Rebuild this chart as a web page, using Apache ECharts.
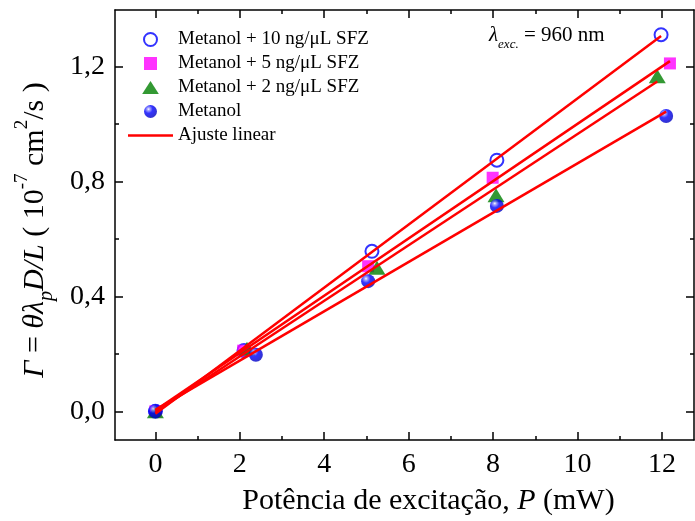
<!DOCTYPE html>
<html>
<head>
<meta charset="utf-8">
<script src="https://cdn.jsdelivr.net/npm/echarts@6/dist/echarts.min.js"></script>
<style>html,body{margin:0;padding:0;background:#fff;}#c{width:695px;height:521px;}</style>
</head>
<body>
<div id="c"></div>
<script>
// ---- data ----
const names = ['Metanol + 10 ng/μL SFZ', 'Metanol + 5 ng/μL SFZ', 'Metanol + 2 ng/μL SFZ', 'Metanol'];
const x10 = [0, 2.10, 5.13, 8.09, 11.98];
const y10 = [0, 0.212, 0.557, 0.874, 1.311];
const x5  = [0, 2.08, 5.04, 7.99, 12.19];
const y5  = [0, 0.211, 0.505, 0.813, 1.211];
const x2  = [0, 2.17, 5.25, 8.07, 11.89];
const y2  = [0, 0.218, 0.500, 0.752, 1.166];
const x0  = [0, 2.38, 5.04, 8.09, 12.10];
const y0  = [0, 0.197, 0.453, 0.715, 1.028];
const xMajor = [0, 2, 4, 6, 8, 10, 12];
const xMinor = [1, 3, 5, 7, 9, 11];
const yMajor = [0, 0.4, 0.8, 1.2];
const yMinor = [0.2, 0.6, 1.0];
const fitName = 'Ajuste linear';

const FONT = "'Liberation Serif', 'Times New Roman', serif";
const pairs = (xs, ys) => xs.map((v, i) => [v, ys[i]]);
function fit(xs, ys) {
  const n = xs.length;
  const mx = xs.reduce((a, b) => a + b, 0) / n;
  const my = ys.reduce((a, b) => a + b, 0) / n;
  let sxx = 0, sxy = 0;
  for (let i = 0; i < n; i++) { sxx += (xs[i] - mx) ** 2; sxy += (xs[i] - mx) * (ys[i] - my); }
  const a = sxy / sxx, b = my - a * mx;
  const x1 = xs[0], x2e = xs[n - 1];
  return [[x1, a * x1 + b], [x2e, a * x2e + b]];
}

const chart = echarts.init(document.getElementById('c'), null, {renderer: 'canvas'});
const axisLine = {show: true, onZero: false, lineStyle: {color: '#000', width: 1.5}};
const noLine = {show: false, onZero: false};
function xAx(pos, vals, len, main) {
  return {
    type: 'value', position: pos, min: -0.957, max: 12.76,
    axisLine: main ? axisLine : noLine,
    axisTick: {show: true, inside: true, length: len, customValues: vals, lineStyle: {color: '#000', width: 1.5}},
    axisLabel: {show: main && pos === 'bottom', customValues: xMajor, fontFamily: FONT, fontSize: 28, color: '#000', margin: 11},
    splitLine: {show: false},
    name: (main && pos === 'bottom') ? 'Potência de excitação, {i|P} (mW)' : '',
    nameLocation: 'middle', nameGap: 46,
    nameTextStyle: {fontFamily: FONT, fontSize: 30, color: '#000', padding: [0, 0, 0, 48],
      rich: {i: {fontFamily: FONT, fontSize: 30, fontStyle: 'italic', color: '#000'}}}
  };
}
function yAx(pos, vals, len, main) {
  return {
    type: 'value', position: pos, min: -0.1, max: 1.397,
    axisLine: main ? axisLine : noLine,
    axisTick: {show: true, inside: true, length: len, customValues: vals, lineStyle: {color: '#000', width: 1.5}},
    axisLabel: {show: main && pos === 'left', customValues: yMajor, fontFamily: FONT, fontSize: 28, color: '#000', margin: 10,
      formatter: v => v.toFixed(1).replace('.', ',')},
    splitLine: {show: false},
    name: (main && pos === 'left') ? '{g|Γ}{n| = }{i|θλ}{sub|p}{i|D/L}{n| ( 10}{sup|-7}{n| cm}{sup|2}{n|/s )}' : '',
    nameLocation: 'middle', nameGap: 58, nameRotate: 90,
    nameTextStyle: {
      fontFamily: FONT, fontSize: 30, color: '#000', padding: [0, 10, 0, 0],
      rich: {
        g: {fontFamily: FONT, fontSize: 30, fontStyle: 'italic', color: '#000', lineHeight: 44},
        n: {fontFamily: FONT, fontSize: 30, color: '#000', lineHeight: 44},
        i: {fontFamily: FONT, fontSize: 30, fontStyle: 'italic', color: '#000', lineHeight: 44},
        sub: {fontFamily: FONT, fontSize: 20, fontStyle: 'italic', color: '#000', lineHeight: 20, verticalAlign: 'bottom'},
        sup: {fontFamily: FONT, fontSize: 19, color: '#000', lineHeight: 32, verticalAlign: 'top'}
      }
    }
  };
}

const sphere = new echarts.graphic.RadialGradient(0.35, 0.32, 0.7, [
  {offset: 0, color: '#ffffff'},
  {offset: 0.15, color: '#9090ff'},
  {offset: 0.45, color: '#0000ff'},
  {offset: 1, color: '#0000c0'}
]);

const squareIcon = 'path://M0,0H12V12H0Z';
const triIcon = 'path://M9,0L18,14L0,14Z';
const lineIcon = 'path://M0,0H45V2.5H0Z';

const scatterBase = {type: 'scatter', z: 3, emphasis: {disabled: true}, silent: true};
const fitBase = {type: 'line', name: fitName, symbol: 'none', showSymbol: false, z: 5, silent: true,
  lineStyle: {color: '#ff0000', width: 2.5}, itemStyle: {color: '#ff0000'}, emphasis: {disabled: true}};

chart.setOption({
  animation: false,
  backgroundColor: '#fff',
  grid: {left: 115, right: 1, top: 10, bottom: 78, containLabel: false},
  xAxis: [xAx('bottom', xMajor, 8, true), xAx('bottom', xMinor, 4, false), xAx('top', xMajor, 8, true), xAx('top', xMinor, 4, false)],
  yAxis: [yAx('left', yMajor, 8, true), yAx('left', yMinor, 4, false), yAx('right', yMajor, 8, true), yAx('right', yMinor, 4, false)],
  legend: {
    orient: 'vertical', left: 128, top: 30, padding: 0, itemGap: 5,
    itemWidth: 45, itemHeight: 13, symbolKeepAspect: true,
    data: [
      {name: names[0]},
      {name: names[1], icon: squareIcon},
      {name: names[2], icon: triIcon},
      {name: names[3]},
      {name: fitName, icon: lineIcon}
    ],
    textStyle: {fontFamily: FONT, fontSize: 19, color: '#000', lineHeight: 19},
    selectedMode: false
  },
  graphic: [{
    type: 'text', left: 489, top: 25, silent: true,
    style: {
      text: '{l|λ}{s|exc.}{n| = 960 nm}',
      rich: {
        l: {fontFamily: FONT, fontSize: 21, fontStyle: 'italic', fill: '#000', lineHeight: 32},
        s: {fontFamily: FONT, fontSize: 13, fontStyle: 'italic', fill: '#000', lineHeight: 13, verticalAlign: 'bottom'},
        n: {fontFamily: FONT, fontSize: 21, fill: '#000', lineHeight: 32}
      }
    }
  }],
  series: [
    Object.assign({}, scatterBase, {name: names[0], data: pairs(x10, y10), symbol: 'emptyCircle', symbolSize: 13,
      itemStyle: {color: '#0000ff', borderColor: '#0000ff', borderWidth: 1.2}}),
    Object.assign({}, scatterBase, {name: names[1], data: pairs(x5, y5), symbol: 'rect', symbolSize: 12,
      itemStyle: {color: '#ff00ff'}}),
    Object.assign({}, scatterBase, {name: names[2], data: pairs(x2, y2), symbol: 'triangle', symbolSize: [17, 14],
      itemStyle: {color: '#008000'}}),
    Object.assign({}, scatterBase, {name: names[3], data: pairs(x0, y0), symbol: 'circle', symbolSize: 14,
      itemStyle: {color: sphere}}),
    Object.assign({}, fitBase, {data: fit(x10, y10)}),
    Object.assign({}, fitBase, {data: fit(x5, y5)}),
    Object.assign({}, fitBase, {data: fit(x2, y2)}),
    Object.assign({}, fitBase, {data: fit(x0, y0)})
  ]
});
</script>
</body>
</html>
